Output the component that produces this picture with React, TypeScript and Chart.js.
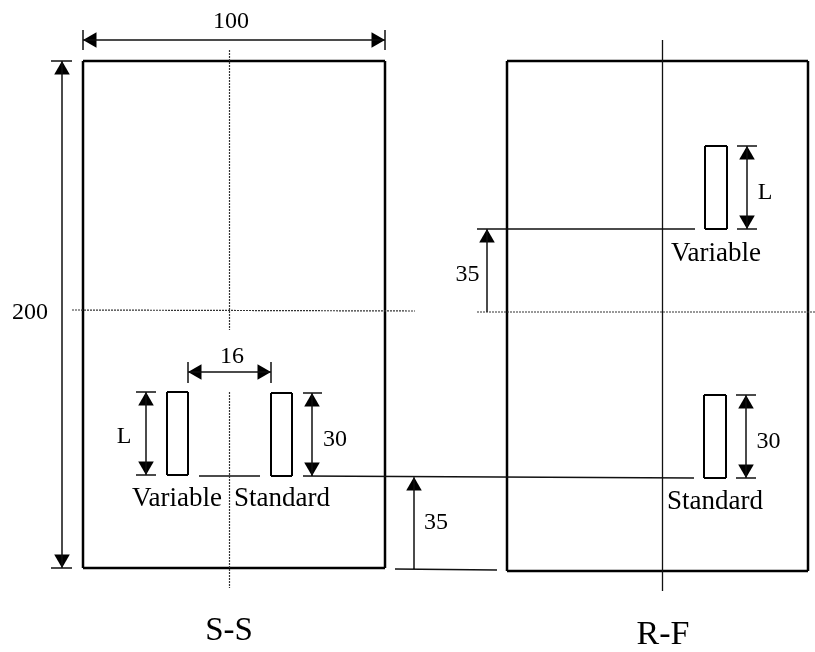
import React, { useEffect, useRef } from "react";
import { Chart, registerables } from "chart.js";

Chart.register(...registerables);

type Seg = [number, number, number, number];

const plateOutlines: Seg[] = [
  [83, 61, 385, 61], [385, 61, 385, 568], [385, 568, 83, 568], [83, 568, 83, 61],
  [507, 61, 808, 61], [808, 61, 808, 571], [808, 571, 507, 571], [507, 571, 507, 61],
];
const slotOutlines: Seg[] = [
  [167, 392, 188, 392], [188, 392, 188, 475], [188, 475, 167, 475], [167, 475, 167, 392],
  [271, 393, 292, 393], [292, 393, 292, 476], [292, 476, 271, 476], [271, 476, 271, 393],
  [705, 146, 727, 146], [727, 146, 727, 229], [727, 229, 705, 229], [705, 229, 705, 146],
  [704, 395, 726, 395], [726, 395, 726, 478], [726, 478, 704, 478], [704, 478, 704, 395],
];
const dimensionLines: Seg[] = [
  [83, 40, 385, 40], [83, 30, 83, 50], [385, 30, 385, 50],
  [62, 61, 62, 568], [51, 61, 72, 61], [51, 568, 72, 568],
  [188, 372, 271, 372], [188, 362, 188, 383], [271, 362, 271, 383],
  [146, 392, 146, 475], [136, 392, 156, 392], [136, 475, 156, 475],
  [312, 393, 312, 476], [303, 393, 322, 393],
  [199, 476, 260, 476], [303, 476, 694, 478],
  [414, 477, 414, 569], [395, 569, 497, 570],
  [477, 229, 695, 229], [487, 229, 487, 312],
  [747, 146, 747, 229], [737, 146, 757, 146], [737, 229, 757, 229],
  [746, 395, 746, 478], [736, 395, 756, 395], [736, 478, 756, 478],
];
const centerLines: Seg[] = [
  [229.5, 50, 229.5, 330], [229.5, 392, 229.5, 588],
  [72, 310, 415, 311],
  [477, 312, 815, 312],
];
const centerLineSolid: Seg[] = [[662.5, 40, 662.5, 591]];

// tip x, tip y, direction in degrees (0 = pointing up)
const arrowTips: [number, number, number][] = [
  [83, 40, 270], [385, 40, 90],
  [62, 61, 0], [62, 568, 180],
  [188, 372, 270], [271, 372, 90],
  [146, 392, 0], [146, 475, 180],
  [312, 393, 0], [312, 476, 180],
  [414, 477, 0],
  [487, 229, 0],
  [747, 146, 0], [747, 229, 180],
  [746, 395, 0], [746, 478, 180],
];

const labels: [string, number, number, number][] = [
  ["100", 231, 28, 24],
  ["200", 30, 319, 24],
  ["16", 232, 363, 24],
  ["L", 124, 443, 24],
  ["30", 335, 446, 24],
  ["Variable", 177, 506, 27],
  ["Standard", 282, 506, 27],
  ["35", 436, 529, 24],
  ["S-S", 229, 640, 33],
  ["R-F", 663, 644, 34],
  ["Standard", 715, 509, 27],
  ["30", 768.5, 448, 24],
  ["35", 467.5, 281, 24],
  ["L", 765, 199, 24],
  ["Variable", 716, 261, 27],
];

const HEAD_RADIUS = 9;

const toPoints = (segs: Seg[]) =>
  segs.flatMap(([a, b, c, d]) => [{ x: a, y: b }, { x: c, y: d }, { x: NaN, y: NaN }]);

const lineSet = (segs: Seg[], width: number, color: string, dash: number[] = []) => ({
  data: toPoints(segs),
  showLine: true,
  borderColor: color,
  borderWidth: width,
  borderDash: dash,
  pointRadius: 0,
  fill: false,
  tension: 0,
});

const textPlugin = {
  id: "diagramText",
  afterDatasetsDraw(chart: any) {
    const { ctx, scales } = chart;
    ctx.save();
    ctx.fillStyle = "#000";
    ctx.textAlign = "center";
    ctx.textBaseline = "alphabetic";
    for (const [t, x, y, size] of labels) {
      ctx.font = `${size}px "Liberation Serif"`;
      ctx.fillText(t, scales.x.getPixelForValue(x), scales.y.getPixelForValue(y));
    }
    ctx.restore();
  },
};

export default function App() {
  const ref = useRef<HTMLCanvasElement>(null);
  useEffect(() => {
    const heads = arrowTips.map(([x, y, deg]) => {
      const r = (deg * Math.PI) / 180;
      return { x: x - Math.sin(r) * HEAD_RADIUS, y: y + Math.cos(r) * HEAD_RADIUS };
    });
    const chart = new Chart(ref.current!, {
      type: "scatter",
      data: {
        datasets: [
          lineSet(centerLines, 1.2, "#333", [2, 1]),
          lineSet(centerLineSolid, 1.3, "#111"),
          lineSet(dimensionLines, 1.5, "#111"),
          lineSet(plateOutlines, 2.5, "#000"),
          lineSet(slotOutlines, 2, "#000"),
          {
            data: heads,
            showLine: false,
            pointStyle: "triangle",
            pointRadius: HEAD_RADIUS,
            pointRotation: arrowTips.map((a) => a[2]),
            pointBackgroundColor: "#000",
            pointBorderWidth: 0,
          },
        ] as any,
      },
      options: {
        animation: false,
        responsive: false,
        layout: { padding: 0, autoPadding: false },
        plugins: { legend: { display: false }, tooltip: { enabled: false } },
        events: [],
        scales: {
          x: { type: "linear", display: false, min: 0, max: 815 },
          y: { type: "linear", display: false, min: 0, max: 652, reverse: true },
        },
      } as any,
      plugins: [textPlugin],
    });
    return () => chart.destroy();
  }, []);
  return (
    <div style={{ position: "fixed", left: 0, top: 0, width: 815, height: 652, background: "#fff" }}>
      <canvas ref={ref} width={815} height={652} style={{ display: "block" }} />
    </div>
  );
}
